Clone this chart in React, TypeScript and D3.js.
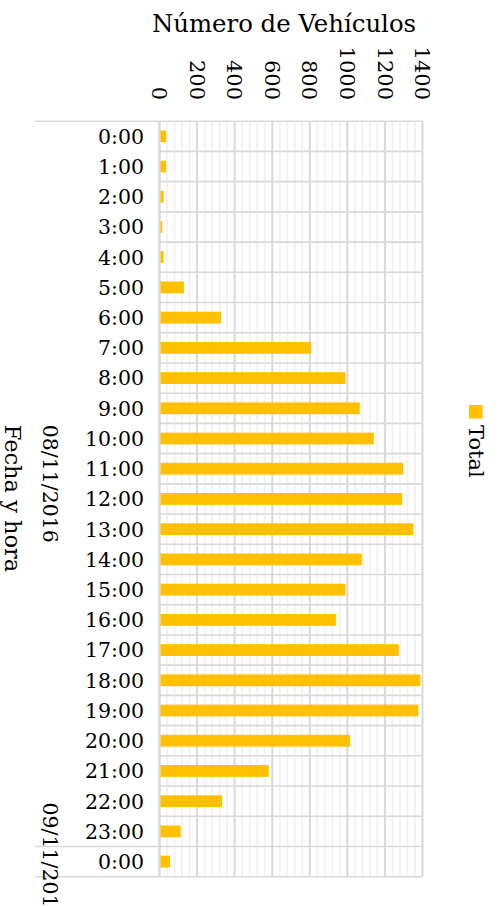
import React from "react";
import * as d3 from "d3";

const categories = ["0:00","1:00","2:00","3:00","4:00","5:00","6:00","7:00","8:00","9:00","10:00","11:00","12:00","13:00","14:00","15:00","16:00","17:00","18:00","19:00","20:00","21:00","22:00","23:00","0:00"];
const totals = [35,35,22,15,22,130,328,807,990,1066,1141,1297,1292,1352,1077,990,939,1274,1389,1378,1015,582,333,113,56];
const groups = [
  { label: "08/11/2016", from: 0, to: 23 },
  { label: "09/11/2016", from: 24, to: 24 },
];
const xTicks = [0,200,400,600,800,1000,1200,1400];
const minorTicks = d3.range(0, 1401, 40);

const W = 499, H = 906;
const FONT = "DejaVu Serif";

export default function App() {
  const left = 159.5, right = 422.5, top = 121.2, bottom = 876.7;
  const x = d3.scaleLinear().domain([0, 1400]).range([left, right]);
  const y = d3.scaleBand<number>().domain(d3.range(categories.length)).range([top, bottom]).paddingInner(0.61).paddingOuter(0.305);
  const step = y.step();
  const boundaries = d3.range(categories.length + 1).map(i => top + i * step);

  return (
    <svg width={W} height={H} style={{ position: "absolute", left: 0, top: 0, background: "#fff" }} fontFamily={FONT}>
      {/* minor gridlines */}
      {minorTicks.filter(v => v % 200 !== 0).map(v => (
        <line key={"m" + v} x1={x(v)} x2={x(v)} y1={top} y2={bottom} stroke="#f2f2f2" strokeWidth={2} />
      ))}
      {/* horizontal category gridlines */}
      {boundaries.map((b, i) => {
        const ext = i === 0 || i === categories.length || i === 24;
        return <line key={"h" + i} x1={ext ? 35 : left} x2={right} y1={b} y2={b} stroke="#d9d9d9" strokeWidth={1.6} />;
      })}
      {/* major gridlines */}
      {xTicks.map(v => (
        <line key={"g" + v} x1={x(v)} x2={x(v)} y1={top} y2={bottom} stroke="#d9d9d9" strokeWidth={v === 0 ? 2.5 : 2} />
      ))}
      {/* bars */}
      {totals.map((v, i) => (
        <rect key={"b" + i} x={x(0) + 1} y={y(i)!} width={Math.max(0, x(v) - x(0) - 1)} height={y.bandwidth()} fill="#FFC000" />
      ))}
      {/* x tick labels */}
      {xTicks.map(v => (
        <text key={"t" + v} transform={`translate(${x(v)},100) rotate(90)`} textAnchor="end" dy="0.35em" fontSize={21} fill="#000">{v}</text>
      ))}
      {/* title */}
      <text x={284} y={31.7} textAnchor="middle" fontSize={24.4} fill="#000">Número de Vehículos</text>
      {/* category labels */}
      {categories.map((c, i) => (
        <text key={"c" + i} x={144} y={y(i)! + y.bandwidth() / 2} dy="0.36em" textAnchor="end" fontSize={20.5} fill="#000">{c}</text>
      ))}
      {/* group labels */}
      {groups.map(g => {
        const cy = (boundaries[g.from] + boundaries[g.to + 1]) / 2;
        return <text key={g.label} transform={`translate(50,${cy}) rotate(90)`} textAnchor="middle" dy="0.35em" fontSize={20.5} fill="#000">{g.label}</text>;
      })}
      {/* axis title */}
      <text transform="translate(12.5,498.5) rotate(90)" textAnchor="middle" dy="0.35em" fontSize={22.5} fill="#000">Fecha y hora</text>
      {/* legend */}
      <rect x={469} y={405} width={13.5} height={13.5} fill="#FFC000" />
      <text transform="translate(476,425) rotate(90)" textAnchor="start" dy="0.35em" fontSize={21} fill="#000">Total</text>
    </svg>
  );
}
